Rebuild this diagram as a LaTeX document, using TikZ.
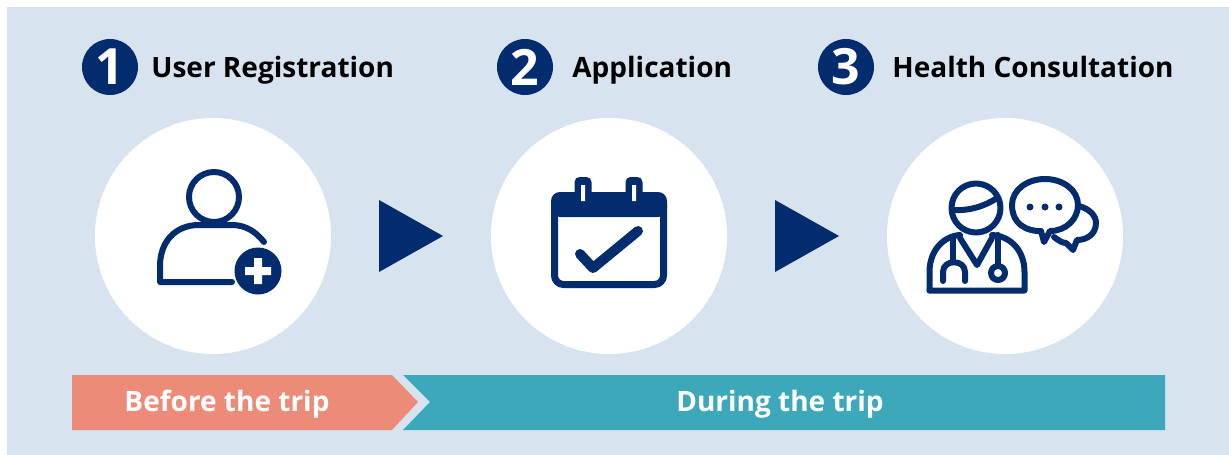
\documentclass[tikz,border=0pt]{standalone}
\usepackage{fontspec}
\setmainfont{Open Sans}
\usetikzlibrary{positioning,calc}
\definecolor{pagebg}{HTML}{D7E3EF}
\definecolor{navy}{HTML}{022C6E}
\definecolor{salmon}{HTML}{EC8C78}
\definecolor{teal2}{HTML}{3DA8B9}
\begin{document}
\begin{tikzpicture}[x=1pt,y=-1pt,inner sep=0pt,line join=round]
\tikzstyle{every node}=[font=\bfseries]
\tikzstyle{disc}=[circle,fill=white,minimum size=236pt]
\tikzstyle{badge}=[circle,fill=navy,text=white,minimum size=56pt,font=\fontsize{50}{50}\selectfont\bfseries]
\tikzstyle{steplabel}=[right=13pt of #1,anchor=west,text=black,text height=26pt,text depth=6pt,font=\fontsize{28}{30}\selectfont\bfseries]
\tikzstyle{bandlabel}=[text=white,text height=26pt,text depth=6pt,font=\fontsize{28}{30}\selectfont\bfseries]
\tikzstyle{icon}=[draw=navy,line width=6pt,line cap=round]
\useasboundingbox (0,0) rectangle (1229,455);
\fill[pagebg] (7,7) rectangle (1229,455);
\node[badge] (b1) at (110,67) {1};
\node[badge] (b2) at (525,67) {2};
\node[badge] (b3) at (846,67) {3};
\node[steplabel=b1] (l1) {User Registration};
\node[steplabel=b2,xshift=6pt] (l2) {Application};
\node[steplabel=b3,xshift=5pt] (l3) {Health Consultation};
\node[disc] (c1) at (213,236) {};
\node[disc] (c2) at (609,236) {};
\node[disc] (c3) at (1005,236) {};
\fill[navy] (379,200) -- (443,236) -- (379,272) -- cycle;
\fill[navy] (775,200) -- (839,236) -- (775,272) -- cycle;
\draw[icon] (214,197) circle (25);
\draw[icon] (232,282) -- (160,282) -- (160,266) .. controls (160,242) and (175,225) .. (199,225)
  -- (232,225) .. controls (246,225) and (256,232) .. (264,242);
\fill[navy] (258,271) circle (23.5);
\fill[white] (254,258) rectangle (262,284) (245,267) rectangle (271,275);
\draw[navy,line width=7pt,rounded corners=9pt] (554.5,195.5) rectangle (663.5,284.5);
\fill[navy,rounded corners=9pt] (551,217) -- (551,192) -- (667,192) -- (667,217) -- cycle;
\fill[navy,rounded corners=5pt] (574.5,177) rectangle (591.5,200);
\fill[navy,rounded corners=5pt] (625.5,177) rectangle (642.5,200);
\fill[white] (581,185) rectangle (585,201) (632,185) rectangle (636,201);
\draw[navy,line width=10pt,line cap=round] (580,254) -- (593,268) -- (638,231);
\draw[icon] (976,208) circle (24.5);
\draw[icon] (953,210) .. controls (970,211) and (985,206) .. (997,198);
\draw[icon] (929.5,290.5) -- (1024.5,290.5) -- (1024.5,272) .. controls (1024.5,250) and (1010,236) .. (992,235);
\draw[icon] (929.5,290.5) -- (929.5,272) .. controls (929.5,250) and (944,236) .. (960,235);
\draw[icon] (960,238) -- (977,265) -- (992,238);
\draw[icon] (953,238) -- (953,262);
\draw[icon] (943,281) -- (943,272) .. controls (943,259) and (965,259) .. (965,272) -- (965,281);
\draw[icon] (998,235) -- (998,266);
\draw[icon] (998,273) circle (7);
\draw[icon] (1037,231) .. controls (1018,229) and (1012,217) .. (1012,205) .. controls (1012,190) and (1027,179) .. (1045,179)
  .. controls (1063,179) and (1078,190) .. (1078,205) .. controls (1078,219) and (1066,231) .. (1050,231)
  -- (1044,242) -- (1041,231) -- cycle;
\draw[icon] (1079,206) .. controls (1090,209) and (1096,216) .. (1096,223) .. controls (1096,234) and (1087,240) .. (1077,240)
  -- (1073,250) -- (1066,243) .. controls (1062,243) and (1058,240) .. (1054,237);
\foreach \dx in {1030,1045,1059}
  \fill[navy] (\dx,207) circle (3.5);
\fill[salmon] (72,375) -- (392,375) -- (418,402) -- (392,430) -- (72,430) -- cycle;
\fill[teal2] (403,375) -- (1165,375) -- (1165,430) -- (403,430) -- (430,402) -- cycle;
\node[bandlabel] (before) at (227,401) {Before the trip};
\node[bandlabel] (during) at (780,401) {During the trip};
\end{tikzpicture}
\end{document}
